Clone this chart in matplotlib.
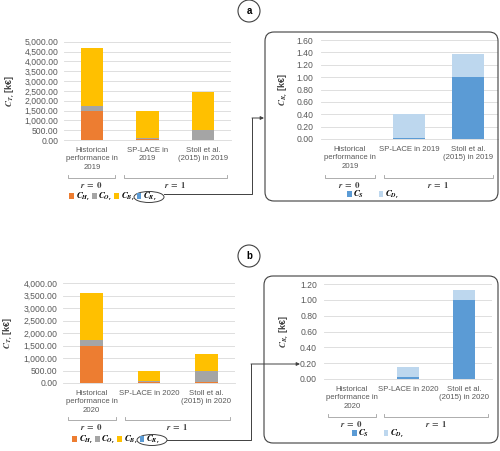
import numpy as np
import matplotlib
matplotlib.use('Agg')
import matplotlib.pyplot as plt
from matplotlib.lines import Line2D
from matplotlib.patches import Ellipse, FancyBboxPatch, FancyArrowPatch
from matplotlib.transforms import IdentityTransform

plt.rcParams['font.family'] = ['Liberation Sans', 'DejaVu Sans']
plt.rcParams['mathtext.fontset'] = 'stix'

# ---- data (k€) ----
cats_a_left = ['Historical\nperformance in\n2019', 'SP-LACE in\n2019', 'Stoll et al.\n(2015) in 2019']
cats_a_right = ['Historical\nperformance in\n2019', 'SP-LACE in 2019', 'Stoll et al.\n(2015) in 2019']
cats_b_left = ['Historical\nperformance in\n2020', 'SP-LACE in 2020', 'Stoll et al.\n(2015) in 2020']
cats_b_right = ['Historical\nperformance in\n2020', 'SP-LACE in 2020', 'Stoll et al.\n(2015) in 2020']

cH_2019 = [1500, 30, 15]
cO_2019 = [230, 60, 495]
cB_2019 = [2930, 1410, 1930]
cS_2019 = [0.0, 0.02, 1.00]
cD_2019 = [0.0, 0.38, 0.37]

cH_2020 = [1500, 60, 30]
cO_2020 = [225, 40, 470]
cB_2020 = [1875, 370, 660]
cS_2020 = [0.0, 0.02, 1.00]
cD_2020 = [0.0, 0.13, 0.12]

cR_2019 = list(np.add(cS_2019, cD_2019))
cR_2020 = list(np.add(cS_2020, cD_2020))

ticks_left_a = np.arange(0, 5001, 500)
ticks_left_b = np.arange(0, 4001, 500)
ticks_right_a = np.arange(0, 1.61, 0.2)
ticks_right_b = np.arange(0, 1.21, 0.2)

orange, grey, yellow, blue, lblue = '#ED7D31', '#A5A5A5', '#FFC000', '#5B9BD5', '#BDD7EE'
txt = '#595959'
dark = '#404040'

lab_H = r'$\mathbfit{C}_{\mathbfit{H}_{\mathbfit{r}}}$'
lab_O = r'$\mathbfit{C}_{\mathbfit{O}_{\mathbfit{r}}}$'
lab_B = r'$\mathbfit{C}_{\mathbfit{B}_{\mathbfit{r}}}$'
lab_R = r'$\mathbfit{C}_{\mathbfit{R}_{\mathbfit{r}}}$'
lab_S = r'$\mathbfit{C}_{\mathbfit{S}}$'
lab_D = r'$\mathbfit{C}_{\mathbfit{D}_{\mathbfit{r}}}$'

W, H = 500, 451
fig = plt.figure(figsize=(W / 100, H / 100), dpi=100)
ID = IdentityTransform()


def P(x, y):
    return (x, H - y)


def box(x0, y0, x1, y1):
    return [x0 / W, 1 - y1 / H, (x1 - x0) / W, (y1 - y0) / H]


def panel(rect, cats, series, colors, ticks, ylabel, ylabel_x, width, tpad):
    ax = fig.add_axes(box(*rect))
    x = np.arange(len(cats))
    bottom = np.zeros(len(cats))
    bars = []
    for vals, c in zip(series, colors):
        b = ax.bar(x, vals, width, bottom=bottom, color=c, zorder=2)
        bottom = bottom + np.array(vals)
        bars.append(b)
    ax.set_xlim(-0.5, len(cats) - 0.5)
    ax.set_ylim(ticks[0], ticks[-1])
    ax.set_yticks(ticks)
    ax.set_yticklabels(['{:,.2f}'.format(t) for t in ticks], fontsize=6.2, color=txt)
    ax.set_xticks(x)
    ax.set_xticklabels(cats, fontsize=5.6, color=txt, linespacing=1.3)
    ax.tick_params(length=0, pad=tpad)
    ax.tick_params(axis='x', pad=5)
    ax.yaxis.grid(True, color='#D9D9D9', lw=0.6, zorder=0)
    for s in ['top', 'right', 'left']:
        ax.spines[s].set_visible(False)
    ax.spines['bottom'].set_color('#D9D9D9')
    ax.spines['bottom'].set_linewidth(0.6)
    ax.set_axisbelow(True)
    yc = (rect[1] + rect[3]) / 2
    fig.text(ylabel_x / W, 1 - yc / H, ylabel, rotation=90, ha='center', va='center',
             fontsize=6.5, fontweight='bold', color=dark)
    return ax, bars


def brackets(ax, line_y, text_y):
    # multi-level category axis (r = 0 / r = 1)
    for (a, b), lab in zip([(-0.42, 0.42), (0.58, 2.42)], [r'$\mathbfit{r}\ \mathbf{=\ 0}$', r'$\mathbfit{r}\ \mathbf{=\ 1}$']):
        xa = ax.transData.transform((a, 0))[0]
        xb = ax.transData.transform((b, 0))[0]
        fig.add_artist(Line2D([xa, xa, xb, xb], [H - line_y + 3, H - line_y, H - line_y, H - line_y + 3],
                              transform=ID, color='#A0A0A0', lw=0.6))
        fig.text((xa + xb) / 2 / W, 1 - text_y / H, lab, ha='center', va='center', fontsize=6.3, color=dark)


# panel a, left
ax1, b1 = panel((64, 41.7, 231, 140), cats_a_left, [cH_2019, cO_2019, cB_2019, cR_2019],
                [orange, grey, yellow, blue], ticks_left_a, r'$\mathbfit{C}_{\mathbfit{T}_{\mathbfit{r}}}$ [k€]', 10, 0.4, 4)
# panel a, right
ax2, b2 = panel((320.5, 40, 497.5, 139), cats_a_right, [cS_2019, cD_2019],
                [blue, lblue], ticks_right_a, r'$\mathbfit{C}_{\mathbfit{R}_{\mathbfit{r}}}$ [k€]', 283, 0.53, 5)
# panel b, left
ax3, b3 = panel((63, 283, 235, 383), cats_b_left, [cH_2020, cO_2020, cB_2020, cR_2020],
                [orange, grey, yellow, blue], ticks_left_b, r'$\mathbfit{C}_{\mathbfit{T}_{\mathbfit{r}}}$ [k€]', 8, 0.4, 4)
# panel b, right
ax4, b4 = panel((324, 284, 492, 379), cats_b_right, [cS_2020, cD_2020],
                [blue, lblue], ticks_right_b, r'$\mathbfit{C}_{\mathbfit{R}_{\mathbfit{r}}}$ [k€]', 284, 0.41, 5)

brackets(ax1, 178, 185)
brackets(ax2, 178, 185)
brackets(ax3, 420, 427)
brackets(ax4, 417, 424)

leg_kw = dict(loc='center', frameon=False, fontsize=6.3, handlelength=0.55, handleheight=0.55,
              handletextpad=0.2, borderpad=0, borderaxespad=0)
fig.legend(b1, [lab_H, lab_O, lab_B, lab_R], ncol=4, columnspacing=0.2,
           bbox_to_anchor=(113 / W, 1 - 197 / H), **leg_kw)
fig.legend(b2, [lab_S, lab_D], ncol=2, columnspacing=1.6,
           bbox_to_anchor=(373 / W, 1 - 195 / H), **leg_kw)
fig.legend(b3, [lab_H, lab_O, lab_B, lab_R], ncol=4, columnspacing=0.2,
           bbox_to_anchor=(116 / W, 1 - 440 / H), **leg_kw)
fig.legend(b4, [lab_S, lab_D], ncol=2, columnspacing=1.6,
           bbox_to_anchor=(378 / W, 1 - 434 / H), **leg_kw)

# rounded frames around the C_R panels
for (x0, y0, x1, y1) in [(265, 32, 498, 201), (264, 276, 498, 443)]:
    fig.add_artist(FancyBboxPatch(P(x0, y1), x1 - x0, y1 - y0, boxstyle='round,pad=0,rounding_size=9',
                                  transform=ID, fc='none', ec=dark, lw=0.8))

# circled panel letters
for (cx, cy, s) in [(249, 11, 'a'), (249, 256, 'b')]:
    fig.add_artist(Ellipse(P(cx, cy), 22, 22, transform=ID, fc='white', ec=dark, lw=0.8))
    fig.text(cx / W, 1 - cy / H, s, ha='center', va='center', fontsize=7, fontweight='bold', color='black')

# ellipses round the C_R legend entry and connectors
for (ex, ey, pts) in [(149, 197, [(164, 194), (252, 194), (252, 118)]),
                      (152, 440, [(167, 440), (251, 440), (251, 364)])]:
    fig.add_artist(Ellipse(P(ex, ey), 30, 11, transform=ID, fc='none', ec=dark, lw=0.7))
    xs = [p[0] for p in pts]
    ys = [H - p[1] for p in pts]
    fig.add_artist(Line2D(xs, ys, transform=ID, color=dark, lw=0.7))
end_a = (264, 118)
end_b = (300, 364)
for start, end in [((252, 118), end_a), ((251, 364), end_b)]:
    fig.add_artist(FancyArrowPatch(P(*start), P(*end), transform=ID, arrowstyle='-|>',
                                   mutation_scale=5, color=dark, lw=0.7, shrinkA=0, shrinkB=0))

fig.savefig('out.png', dpi=100)
plt.close(fig)
